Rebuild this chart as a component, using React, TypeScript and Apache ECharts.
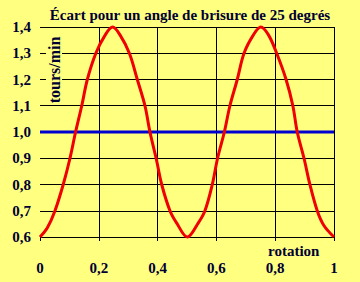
import { useEffect, useRef } from "react";
import * as echarts from "echarts";

const titleText = "Écart pour un angle de brisure de 25 degrés";
const yAxisTitle = "tours/min";
const xAxisTitle = "rotation";

const curveX = [
  0, 0.025, 0.051, 0.079, 0.102, 0.121, 0.142, 0.161, 0.19, 0.222, 0.247, 0.272,
  0.304, 0.331, 0.357, 0.374, 0.395, 0.414, 0.442, 0.465, 0.501, 0.538, 0.561,
  0.586, 0.604, 0.627, 0.646, 0.671, 0.694, 0.726, 0.751, 0.777, 0.805, 0.837,
  0.86, 0.875, 0.898, 0.918, 0.943, 0.965, 1.0,
];
const curveY = [
  0.6, 0.635, 0.7, 0.8, 0.9, 1.0, 1.1, 1.2, 1.3, 1.37, 1.4, 1.37,
  1.3, 1.2, 1.1, 1.0, 0.9, 0.8, 0.7, 0.653, 0.6, 0.653, 0.7,
  0.8, 0.9, 1.0, 1.1, 1.2, 1.3, 1.37, 1.4, 1.37, 1.3, 1.2,
  1.1, 1.0, 0.9, 0.8, 0.7, 0.645, 0.6,
];
const refX = [0, 1];
const refY = [1, 1];

const BG = "#FFFF80";
const INK = "#000033";
const FONT = "Liberation Serif";

const fmtY = (v: number) => v.toFixed(1).replace(".", ",");
const fmtX = (v: number) => String(Number(v.toFixed(1))).replace(".", ",");

export default function App() {
  const ref = useRef<HTMLDivElement>(null);
  useEffect(() => {
    if (!ref.current) return;
    const chart = echarts.init(ref.current, null, { renderer: "svg" });
    chart.setOption({
      animation: false,
      backgroundColor: BG,
      grid: { left: 40, right: 26, top: 27, bottom: 45, containLabel: false },
      xAxis: {
        type: "value",
        min: 0,
        max: 1,
        interval: 0.2,
        axisLine: { show: false },
        axisTick: { show: true, length: 4, lineStyle: { color: "#000", width: 1 } },
        axisLabel: {
          formatter: fmtX,
          margin: 23,
          color: INK,
          fontFamily: FONT,
          fontWeight: "bold",
          fontSize: 15,
        },
        splitLine: {
          show: true,
          lineStyle: {
            color: ["rgba(0,0,0,0)", "#000", "#000", "#000", "#000", "#000"],
            width: 1,
          },
        },
      },
      yAxis: {
        type: "value",
        min: 0.6,
        max: 1.4,
        interval: 0.1,
        axisLine: { show: false },
        axisTick: { show: false },
        axisLabel: {
          formatter: fmtY,
          margin: 9,
          color: INK,
          fontFamily: FONT,
          fontWeight: "bold",
          fontSize: 15,
        },
        splitLine: { show: true, lineStyle: { color: "#000", width: 1 } },
      },
      graphic: [
        {
          type: "text",
          x: 190,
          y: 15,
          z: 100,
          style: {
            text: titleText,
            fontFamily: FONT,
            fontWeight: "bold",
            fontSize: 15,
            fill: INK,
            textAlign: "center",
            textVerticalAlign: "middle",
          },
        },
        {
          type: "text",
          x: 268,
          y: 251,
          z: 100,
          style: {
            text: xAxisTitle,
            fontFamily: FONT,
            fontWeight: "bold",
            fontSize: 15,
            fill: INK,
            textAlign: "left",
            textVerticalAlign: "middle",
          },
        },
        {
          type: "text",
          x: 54,
          y: 70,
          rotation: Math.PI / 2,
          z: 100,
          style: {
            text: yAxisTitle,
            fontFamily: FONT,
            fontWeight: "bold",
            fontSize: 16,
            fill: INK,
            textAlign: "center",
            textVerticalAlign: "middle",
            backgroundColor: BG,
            padding: [0, 1],
          },
        },
      ],
      series: [
        {
          type: "line",
          data: refX.map((x, i) => [x, refY[i]]),
          showSymbol: false,
          lineStyle: { color: "#0000D0", width: 3 },
          z: 3,
        },
        {
          type: "line",
          data: curveX.map((x, i) => [x, curveY[i]]),
          showSymbol: false,
          smooth: 0.35,
          clip: false,
          lineStyle: { color: "#F00000", width: 3 },
          z: 4,
        },
      ],
    });
    return () => chart.dispose();
  }, []);
  return (
    <div
      ref={ref}
      style={{ position: "absolute", left: 0, top: 0, width: 360, height: 282, background: BG }}
    />
  );
}
